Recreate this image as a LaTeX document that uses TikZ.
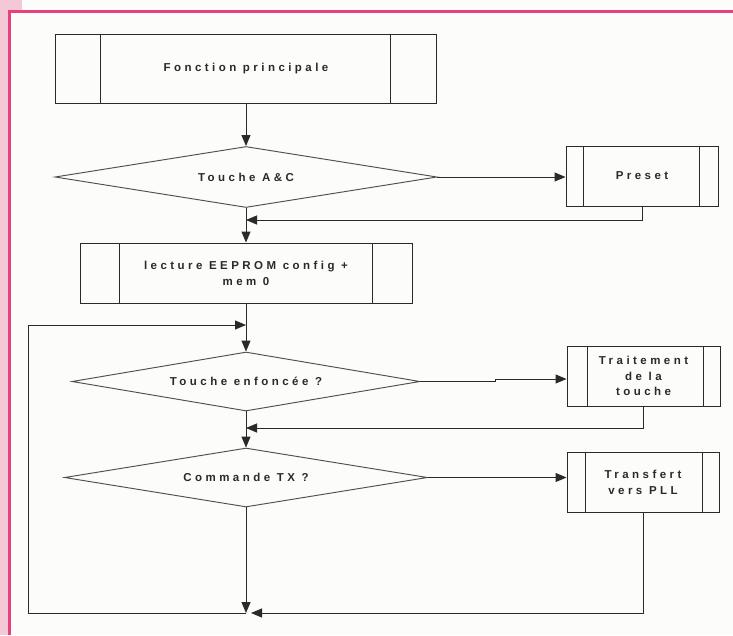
\documentclass[tikz,border=0pt]{standalone}
\usepackage{fontspec}
\setmainfont{Liberation Sans}
\newfontfamily\lblfont{Liberation Sans}[LetterSpace=30]
\usetikzlibrary{shapes.geometric,arrows.meta}
\definecolor{ink}{HTML}{2A2A2A}
\definecolor{dink}{HTML}{505050}
\definecolor{paper}{HTML}{FCFCFA}
\definecolor{magenta}{HTML}{E8417F}
\definecolor{palepink}{HTML}{F5C8D8}
\begin{document}
\begin{tikzpicture}[x=1pt,y=-1pt,
  lbl/.style={font=\lblfont\bfseries\fontsize{11.5}{16}\selectfont, text=ink, align=center},
  line/.style={draw=ink, line width=0.95pt},
  arr/.style={line, -{Triangle[length=11pt,width=9pt]}},
  sub/.style n args={2}{rectangle, draw=ink, line width=0.95pt, inner sep=0pt, lbl,
    path picture={
      \draw[ink,line width=0.95pt] ([xshift=#1]path picture bounding box.north west) -- ([xshift=#1]path picture bounding box.south west);
      \draw[ink,line width=0.95pt] ([xshift=-#2]path picture bounding box.north east) -- ([xshift=-#2]path picture bounding box.south east);
    }},
  dia/.style={diamond, draw=dink, line width=0.95pt, inner sep=0pt}
]
\useasboundingbox (0,0) rectangle (733,635);
\fill[paper] (0,0) rectangle (733,635);
% pink frame
\fill[palepink] (0,0) rectangle (8,635);
\fill[palepink] (0,0) rectangle (22,10);
\draw[magenta, line width=3pt] (9,635) -- (9,11) -- (733,11);

% nodes
\node[sub={45}{46}, minimum width=381, minimum height=69] (f) at (246,68.5) {Fonction principale};
\node[dia, minimum width=382, minimum height=61] (d1) at (246,177) {};
\node[lbl] (d1t) at (d1) {Touche A\&C};
\node[sub={17}{19}, minimum width=152, minimum height=60] (p) at (642,176) {Preset};
\node[sub={39}{40}, minimum width=332, minimum height=60] (l) at (246,273) {lecture EEPROM config +\\mem 0};
\node[dia, minimum width=348, minimum height=59] (d2) at (246,381.5) {};
\node[lbl] (d2t) at (d2) {Touche enfoncée ?};
\node[sub={20}{17}, minimum width=153, minimum height=60, font=\lblfont\bfseries\fontsize{11.5}{15.5}\selectfont] (tr) at (643.5,376) {Traitement\\de la\\touche};
\node[dia, minimum width=363, minimum height=59] (d3) at (246,477.5) {};
\node[lbl] (d3t) at (d3) {Commande TX ?};
\node[sub={18}{17}, minimum width=152, minimum height=60] (tf) at (643,482) {Transfert\\vers PLL};

% junction coordinates
\coordinate (j1) at (246,220);
\coordinate (j2) at (246,325);
\coordinate (j3) at (246,428);
\coordinate (j4) at (246,613);
\coordinate (j4r) at (251,613);
\coordinate (lb) at (28,613);
\coordinate (lt) at (28,325);
\coordinate (k1) at (495,381.5);
\coordinate (k2) at (495,379);

% connectors
\draw[arr] (f.south) -- (d1.north);
\draw[arr] (d1.east) -- (d1.east -| p.west);
\draw[arr] (p.south) |- (j1);
\draw[arr] (d1.south) -- (l.north);
\draw[arr] (l.south) -- (d2.north);
\draw[arr] (j4) -- (lb) -- (lt) -- (j2);
\draw[line] (d2.east) -- (k1) -- (k2);
\draw[arr] (k2) -- (k2 -| tr.west);
\draw[arr] (tr.south) |- (j3);
\draw[arr] (d2.south) -- (d3.north);
\draw[arr] (d3.east) -- (d3.east -| tf.west);
\draw[arr] (d3.south) -- (j4);
\draw[arr] (tf.south) |- (j4r);
\end{tikzpicture}
\end{document}
